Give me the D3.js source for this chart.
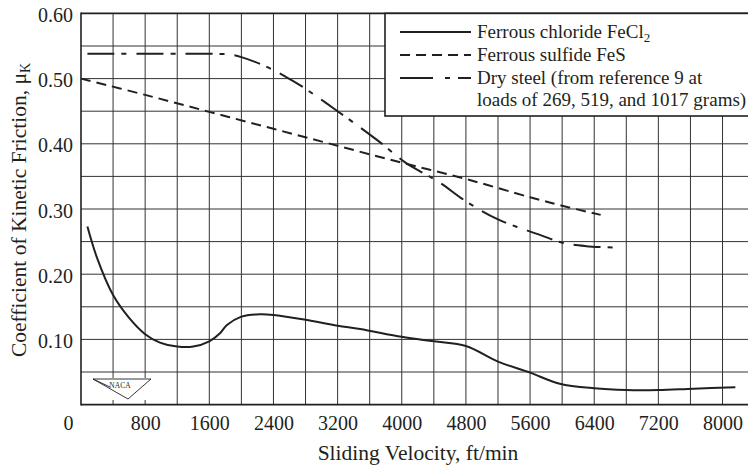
<!DOCTYPE html>
<html>
<head>
<meta charset="utf-8">
<script src="https://cdn.jsdelivr.net/npm/d3@7"></script>
<style>
  html, body { margin: 0; padding: 0; background: #fff; }
  svg { display: block; overflow: hidden; }
  text { font-family: "Liberation Serif", "DejaVu Serif", serif; fill: #231f20; }
</style>
</head>
<body>
<svg id="chart" width="748" height="468"></svg>
<script>
// ---- data ----
const velocityFeCl2 = [80, 200, 400, 600, 800, 985, 1200, 1400, 1600, 1730, 1820, 2000, 2230, 2400, 2800, 3200, 3480, 4000, 4400, 4800, 5200, 5600, 5970, 6400, 6800, 7200, 7640, 8160];
const muFeCl2       = [0.273, 0.225, 0.168, 0.133, 0.108, 0.095, 0.089, 0.089, 0.097, 0.109, 0.122, 0.135, 0.1386, 0.1375, 0.130, 0.121, 0.116, 0.104, 0.097, 0.090, 0.066, 0.049, 0.032, 0.025, 0.0224, 0.0224, 0.0245, 0.0265];

const velocityFeS = [0, 800, 1600, 2400, 3200, 4000, 4800, 5600, 6000, 6480];
const muFeS       = [0.500, 0.475, 0.449, 0.423, 0.397, 0.371, 0.346, 0.318, 0.305, 0.291];

const velocityDry = [80, 1000, 1600, 1850, 2000, 2300, 2550, 2730, 3200, 3690, 4060, 4270, 4480, 4810, 5200, 5730, 6010, 6300, 6630];
const muDry       = [0.538, 0.538, 0.538, 0.537, 0.533, 0.519, 0.503, 0.490, 0.450, 0.406, 0.370, 0.355, 0.340, 0.311, 0.284, 0.260, 0.248, 0.243, 0.241];

const xTickValues = [0, 800, 1600, 2400, 3200, 4000, 4800, 5600, 6400, 7200, 8000];
const xTickLabels = ["0", "800", "1600", "2400", "3200", "4000", "4800", "5600", "6400", "7200", "8000"];
const yTickValues = [0.10, 0.20, 0.30, 0.40, 0.50, 0.60];
const yTickLabels = ["0.10", "0.20", "0.30", "0.40", "0.50", "0.60"];
const xGridValues = [400, 800, 1200, 1600, 2000, 2400, 2800, 3200, 3600, 4000, 4400, 4800, 5200, 5600, 6000, 6400, 6800, 7200, 7600, 8000, 8400];
const yGridValues = [0.05, 0.10, 0.15, 0.20, 0.25, 0.30, 0.35, 0.40, 0.45, 0.50, 0.55];

const seriesNames = ["Ferrous chloride FeCl", "Ferrous sulfide FeS", "Dry steel (from reference 9 at", "loads of 269, 519, and 1017 grams)"];

// ---- scales ----
const svg = d3.select("#chart");
const x = d3.scaleLinear().domain([0, 8400]).range([81, 754.6]);
const y = d3.scaleLinear().domain([0, 0.6]).range([404.6, 13.4]);

// ---- grid ----
const grid = svg.append("g").attr("stroke", "#333").attr("stroke-width", 1);
grid.selectAll("line.v").data(xGridValues).join("line")
  .attr("x1", d => x(d)).attr("x2", d => x(d))
  .attr("y1", y(0.6)).attr("y2", y(0));
grid.selectAll("line.h").data(yGridValues).join("line")
  .attr("y1", d => y(d)).attr("y2", d => y(d))
  .attr("x1", x(0)).attr("x2", x(8400));

// frame (top, left, bottom)
const frame = svg.append("g").attr("stroke", "#231f20").attr("stroke-width", 1.6).attr("fill", "none");
frame.append("line").attr("x1", x(0)).attr("x2", x(8400)).attr("y1", y(0.6)).attr("y2", y(0.6));
frame.append("line").attr("x1", x(0)).attr("x2", x(8400)).attr("y1", y(0)).attr("y2", y(0));
frame.append("line").attr("x1", x(0)).attr("x2", x(0)).attr("y1", y(0.6) - 0.8).attr("y2", y(0) + 0.8);

// ---- axes ----
const xAxis = d3.axisBottom(x).tickValues(xTickValues).tickSize(0).tickPadding(11.5)
  .tickFormat((d, i) => xTickLabels[i]);
const gx = svg.append("g").attr("transform", `translate(0,${y(0)})`).call(xAxis);
gx.select(".domain").remove();
gx.selectAll("text").attr("font-size", 20).attr("font-family", "Liberation Serif").attr("fill", "#231f20");
gx.selectAll(".tick").filter(d => d === 0).select("text").attr("x", -13);

const yAxis = d3.axisLeft(y).tickValues(yTickValues).tickSize(0).tickPadding(8)
  .tickFormat((d, i) => yTickLabels[i]);
const gy = svg.append("g").attr("transform", `translate(${x(0)},0)`).call(yAxis);
gy.select(".domain").remove();
gy.selectAll("text").attr("font-size", 20).attr("font-family", "Liberation Serif").attr("fill", "#231f20").attr("dy", "0.4em");

// axis titles
svg.append("text").attr("x", 418).attr("y", 460).attr("text-anchor", "middle")
  .attr("font-size", 21.5).text("Sliding Velocity, ft/min");

const yt = svg.append("text").attr("transform", "translate(26,210) rotate(-90)")
  .attr("text-anchor", "middle").attr("font-size", 21.5);
yt.append("tspan").text("Coefficient of Kinetic Friction, \u03BC");
yt.append("tspan").attr("font-size", 14).attr("dy", 4).text("K");

// ---- NACA logo ----
const logo = svg.append("g");
logo.append("rect").attr("x", 92).attr("y", 378).attr("width", 60).attr("height", 22).attr("fill", "#fff");
logo.append("path")
  .attr("d", "M93,379 L151,379 L128,399 Z M93,379 L110,387")
  .attr("fill", "none").attr("stroke", "#231f20").attr("stroke-width", 0.9);
logo.append("text").attr("x", 120).attr("y", 388).attr("text-anchor", "middle")
  .attr("font-size", 7.5).text("NACA");

// ---- lines ----
const line = d3.line().x(d => x(d[0])).y(d => y(d[1])).curve(d3.curveCatmullRom.alpha(0.5));
const dataFeCl2 = velocityFeCl2.map((v, i) => [v, muFeCl2[i]]);
const dataFeS = velocityFeS.map((v, i) => [v, muFeS[i]]);
const dataDry = velocityDry.map((v, i) => [v, muDry[i]]);

svg.append("path").datum(dataFeCl2).attr("d", line)
  .attr("fill", "none").attr("stroke", "#231f20").attr("stroke-width", 2);
svg.append("path").datum(dataFeS).attr("d", line)
  .attr("fill", "none").attr("stroke", "#231f20").attr("stroke-width", 2)
  .attr("stroke-dasharray", "10,6");
svg.append("path").datum(dataDry).attr("d", line)
  .attr("fill", "none").attr("stroke", "#231f20").attr("stroke-width", 2)
  .attr("stroke-dasharray", "27,7,5,10");

// ---- legend ----
const lg = svg.append("g");
lg.append("rect").attr("x", 385).attr("y", y(0.6)).attr("width", 400).attr("height", 116 - y(0.6))
  .attr("fill", "#fff").attr("stroke", "#231f20").attr("stroke-width", 1.6);
const legendDash = [null, "10,6", "33,12,5,8,13"];
const rowY = [32, 55, 78];
rowY.forEach((ry, i) => {
  const l = lg.append("line").attr("x1", 400).attr("x2", 471).attr("y1", ry).attr("y2", ry)
    .attr("stroke", "#231f20").attr("stroke-width", 2);
  if (legendDash[i]) l.attr("stroke-dasharray", legendDash[i]);
});
const t0 = lg.append("text").attr("x", 477).attr("y", 38).attr("font-size", 19);
t0.append("tspan").text(seriesNames[0]);
t0.append("tspan").attr("font-size", 13).attr("dy", 4).text("2");
lg.append("text").attr("x", 477).attr("y", 61).attr("font-size", 19).text(seriesNames[1]);
lg.append("text").attr("x", 477).attr("y", 84).attr("font-size", 19).text(seriesNames[2]);
lg.append("text").attr("x", 477).attr("y", 106).attr("font-size", 19).text(seriesNames[3]);
</script>
</body>
</html>
